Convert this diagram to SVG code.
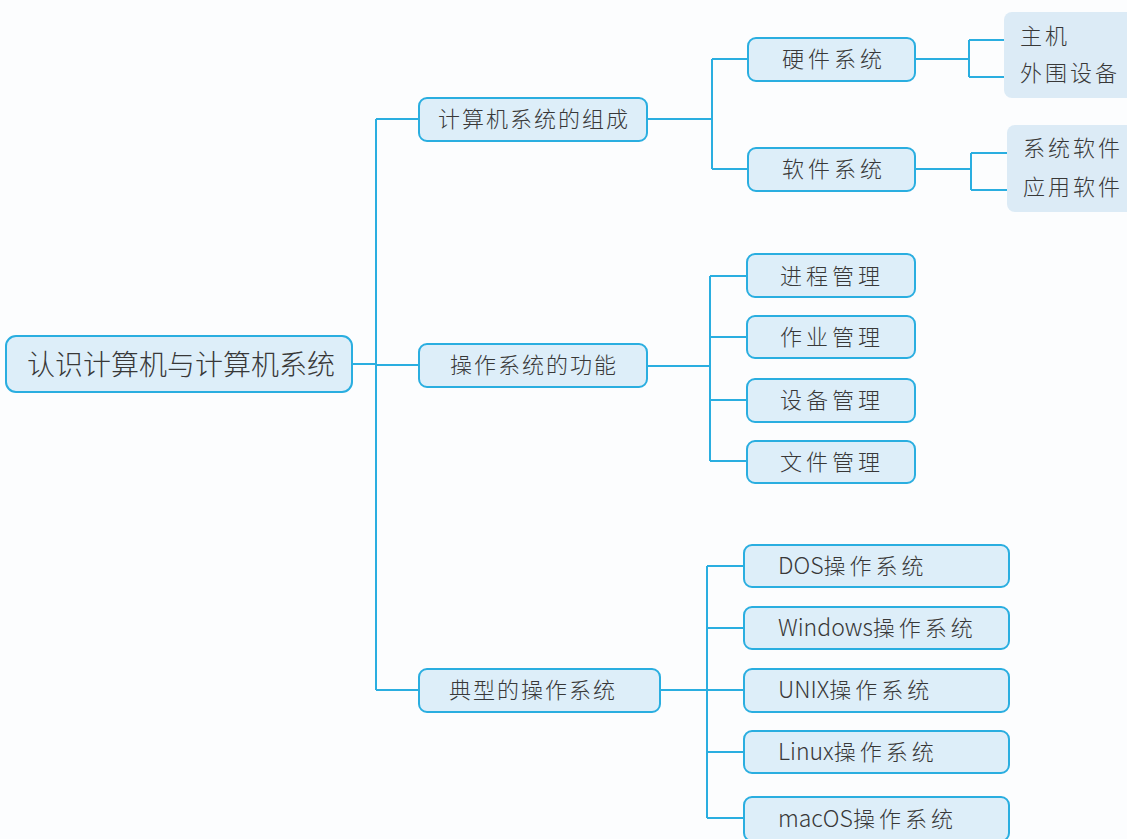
<svg xmlns="http://www.w3.org/2000/svg" width="1127" height="839" viewBox="0 0 1127 839">
<style>
.n{fill:#ddeef9;stroke:#2aaee0;stroke-width:2}
.leaf{fill:#dcebf6;stroke:none}
.c{fill:none;stroke:#2aaee0;stroke-width:2}
text{font-family:"Noto Sans CJK SC","Noto Sans",sans-serif;fill:#383838;font-size:22px;font-weight:300}
.r{font-size:28px}
.s2{letter-spacing:2px}
.s4{letter-spacing:4px}
.s3{letter-spacing:3px}
.lat{font-size:23px}
</style>
<rect width="1127" height="839" fill="#fcfdfe"/>
<g id="connectors">
<path class="c" d="M352 364H376M376 119V690M376 119H419M376 365H419M376 690H419"/>
<path class="c" d="M647 119H712M712 59V169M712 59H748M712 169H748"/>
<path class="c" d="M915 59H969M969 40V77M969 40H1004M969 77H1004"/>
<path class="c" d="M915 169H971M971 153V190M971 153H1007M971 190H1007"/>
<path class="c" d="M647 366H710M710 276V461M710 276H747M710 337H747M710 400H747M710 461H747"/>
<path class="c" d="M660 690H744M707 566V818M707 566H744M707 628H744M707 752H744M707 818H744"/>
</g>
<g id="root"><rect class="n" x="6" y="336" width="346" height="56" rx="10"/><text class="r" x="27" y="375">认识计算机与计算机系统</text></g>
<g id="n1"><rect class="n" x="419" y="98" width="228" height="43" rx="8"/><text class="s2" x="438" y="127">计算机系统的组成</text></g>
<g id="n2"><rect class="n" x="419" y="344" width="228" height="43" rx="8"/><text class="s2" x="450" y="373">操作系统的功能</text></g>
<g id="n3"><rect class="n" x="419" y="669" width="241" height="43" rx="8"/><text class="s2" x="449" y="698">典型的操作系统</text></g>
<g id="hw"><rect class="n" x="748" y="38" width="167" height="43" rx="8"/><text class="s4" x="782" y="67">硬件系统</text></g>
<g id="sw"><rect class="n" x="748" y="148" width="167" height="43" rx="8"/><text class="s4" x="782" y="177">软件系统</text></g>
<g id="hwleaf"><rect class="leaf" x="1004" y="12" width="130" height="86" rx="8"/><text class="s3" x="1020" y="44">主机</text><text class="s3" x="1020" y="81">外围设备</text></g>
<g id="swleaf"><rect class="leaf" x="1007" y="125" width="127" height="87" rx="8"/><text class="s3" x="1023" y="156">系统软件</text><text class="s3" x="1023" y="195">应用软件</text></g>
<g id="m1"><rect class="n" x="747" y="254" width="168" height="43" rx="8"/><text class="s4" x="780" y="284">进程管理</text></g>
<g id="m2"><rect class="n" x="747" y="316" width="168" height="42" rx="8"/><text class="s4" x="780" y="345">作业管理</text></g>
<g id="m3"><rect class="n" x="747" y="379" width="168" height="43" rx="8"/><text class="s4" x="780" y="408">设备管理</text></g>
<g id="m4"><rect class="n" x="747" y="441" width="168" height="42" rx="8"/><text class="s4" x="780" y="470">文件管理</text></g>
<g id="os1"><rect class="n" x="744" y="545" width="265" height="42" rx="8"/><text x="778" y="574"><tspan class="lat">DOS</tspan><tspan class="s4">操作系统</tspan></text></g>
<g id="os2"><rect class="n" x="744" y="607" width="265" height="42" rx="8"/><text x="778" y="636"><tspan class="lat">Windows</tspan><tspan class="s4">操作系统</tspan></text></g>
<g id="os3"><rect class="n" x="744" y="669" width="265" height="43" rx="8"/><text x="778" y="698"><tspan class="lat">UNIX</tspan><tspan class="s4">操作系统</tspan></text></g>
<g id="os4"><rect class="n" x="744" y="731" width="265" height="42" rx="8"/><text x="778" y="760"><tspan class="lat">Linux</tspan><tspan class="s4">操作系统</tspan></text></g>
<g id="os5"><rect class="n" x="744" y="797" width="265" height="44" rx="8"/><text x="778" y="827"><tspan class="lat">macOS</tspan><tspan class="s4">操作系统</tspan></text></g>
</svg>
